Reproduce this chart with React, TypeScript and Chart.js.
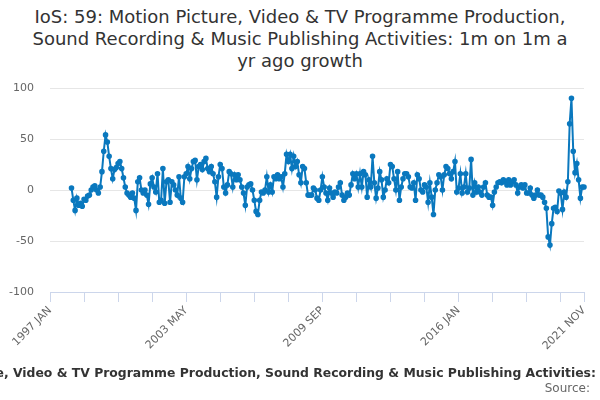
import React, { useEffect, useRef } from "react";
import Chart from "chart.js/auto";

const monthNames = ["JAN", "FEB", "MAR", "APR", "MAY", "JUN", "JUL", "AUG", "SEP", "OCT", "NOV", "DEC"];
const firstYear = 1997;
const lastYear = 2021;
const lastMonthIndex = 10; // NOV

// 1997 JAN .. 2021 NOV
const months: string[] = [];
for (let y = firstYear; y <= lastYear; y++) {
	for (let m = 0; m < 12; m++) {
		if (y === lastYear && m > lastMonthIndex) break;
		months.push(y + " " + monthNames[m]);
	}
}

// 1997: no year-ago figure
const growth1997 = [null, null, null, null, null, null, null, null, null, null, null, null];
// 1998 JAN .. 2002 FEB
const growth1998 = [
	2, -10, -20, -8, -15, -13, -16, -9, -10, -6, -5, 0, 3, 4, 0, -3, 3, 18, 38, 54, 47, 33, 21, 11, 20,
	22, 26, 28, 21, 12, 3, -3, -5, -7, -3, -8, -20, 8, 12, 0, -3, 0, -5, -14, 6, 12, 3, -2, 16, -12,
];
// 2002 MAR .. 2005 OCT
const growth2002 = [
	-10, 21, -13, 8, 10, -12, 8, 5, 0, -5, 13, -8, -12, 13, 16, 23, 11, 21, 28, 29, 10, 23, 25, 20, 28,
	31, 21, 18, 23, 16, 8, -7, 13, 25, 21, 3, -3, 5, 18, 16, 3, 15, 10, 15,
];
// 2005 NOV .. 2009 DEC
const growth2005 = [
	10, 3, -3, -15, 3, 5, 6, 0, -10, -21, -24, -10, -2, -3, 0, 13, -2, 5, -2, 13, 11, 15, 11, 13, 3,
	16, 35, 28, 35, 21, 33, 23, 28, 15, 7, 23, 21, 7, -5, -5, -5, 2, 0, -8, -10, 0, 13, 3, -3, -10,
];
// 2010 JAN .. 2014 MAY
const growth2010 = [
	2, -3, -7, -2, -3, 3, 7, -5, -10, -7, -3, -5, 5, 16, 11, 16, 3, 16, 3, 18, 15, -7, 10, 3, 33, 7,
	-8, 2, 18, 10, -7, 0, 11, 7, 25, 23, 11, 0, 18, -10, 3, 11, 16, 16, 13, 3, 2, 7, -10, 15, 11, 0, -2,
];
// 2014 JUN .. 2018 JUN
const growth2014 = [
	5, 3, -12, 7, -7, -24, 0, 7, 15, 13, 0, 15, 23, 21, 16, 11, 18, 28, -2, 2, 16, -3, 3, 16, -2,
	2, 30, -5, 7, -2, 3, -2, -5, 3, 7, -5, -7, -7, -15, -2, 3, 7, 8, 7, 10, 8, 5, 10, 5,
];
// 2018 JUL .. 2021 NOV
const growth2018 = [
	8, 10, 5, -3, 3, 5, 2, 5, -3, -3, 2, -5, -8, -5, 0, -5, -5, -7, -12, -18, -46, -54, -33, -18, -17,
	-21, -1, -3, -19, -2, -7, 8, 65, 90, 38, 17, 26, 10, -8, 3, 3,
];

const growth = [...growth1997, ...growth1998, ...growth2002, ...growth2005, ...growth2010, ...growth2014, ...growth2018];

const seriesName =
	"IoS: 59: Motion Picture, Video & TV Programme Production, Sound Recording & Music Publishing Activities: 1m on 1m a yr ago growth";

const lineColor = "#0a78be";
const axisColor = "#ccd6eb";
const fontFamily = "'DejaVu Sans', sans-serif";

const App: React.FC = () => {
	const chartRef = useRef<HTMLCanvasElement>(null);

	useEffect(() => {
		document.body.style.margin = "0";
		if (!chartRef.current) return;
		const last = months.length - 1;
		const chart = new Chart(chartRef.current, {
			type: "line",
			data: {
				labels: months,
				datasets: [
					{
						label: seriesName,
						data: growth,
						borderColor: lineColor,
						backgroundColor: lineColor,
						borderWidth: 2,
						pointRadius: 1.8,
						pointHoverRadius: 1.8,
						tension: 0,
					},
				],
			},
			options: {
				animation: false,
				responsive: false,
				layout: { padding: { top: 88, right: 16, left: 0, bottom: 0 } },
				plugins: {
					legend: { display: false },
					title: { display: false },
					tooltip: { enabled: false },
				},
				scales: {
					x: {
						grid: { drawOnChartArea: false, color: axisColor, tickLength: 10 },
						border: { color: axisColor },
						ticks: {
							autoSkip: false,
							minRotation: 45,
							maxRotation: 45,
							padding: 2,
							color: "#666",
							font: { family: fontFamily, size: 11 },
							callback: (_v: any, i: number) =>
								i % 76 === 0 || i === last ? months[i] : i % 19 === 0 ? "" : null,
						},
						afterFit: (s: any) => {
							s.height = 108;
						},
					},
					y: {
						min: -100,
						max: 100,
						ticks: {
							stepSize: 50,
							padding: 16,
							color: "#666",
							font: { family: fontFamily, size: 11 },
						},
						grid: { color: "#e6e6e6", drawTicks: false },
						border: { display: false },
						afterFit: (s: any) => {
							s.width = 50;
						},
					},
				},
			},
		});
		return () => {
			chart.destroy();
		};
	}, []);

	return (
		<div style={{ position: "relative", width: 600, height: 400, background: "#fff", fontFamily, overflow: "hidden" }}>
			<div
				style={{
					position: "absolute",
					top: 6,
					left: 0,
					width: 600,
					textAlign: "center",
					fontSize: 18,
					lineHeight: "22px",
					color: "#333",
				}}
			>
				IoS: 59: Motion Picture, Video &amp; TV Programme Production,
				<br />
				Sound Recording &amp; Music Publishing Activities: 1m on 1m a
				<br />
				yr ago growth
			</div>
			<canvas ref={chartRef} width={600} height={400} style={{ position: "absolute", left: 0, top: 0 }} />
			<div
				style={{
					position: "absolute",
					top: 363,
					left: 0,
					width: 600,
					height: 18,
					display: "flex",
					justifyContent: "center",
					alignItems: "center",
					overflow: "hidden",
					whiteSpace: "nowrap",
					fontSize: 12.4,
					fontWeight: "bold",
					color: "#333",
				}}
			>
				<span style={{ flex: "none", width: 16, height: 2, background: lineColor, marginRight: 12 }} />
				<span style={{ flex: "none" }}>{seriesName}</span>
			</div>
			<div style={{ position: "absolute", top: 381, right: 10, fontSize: 12, color: "#666" }}>Source:</div>
		</div>
	);
};

export default App;
